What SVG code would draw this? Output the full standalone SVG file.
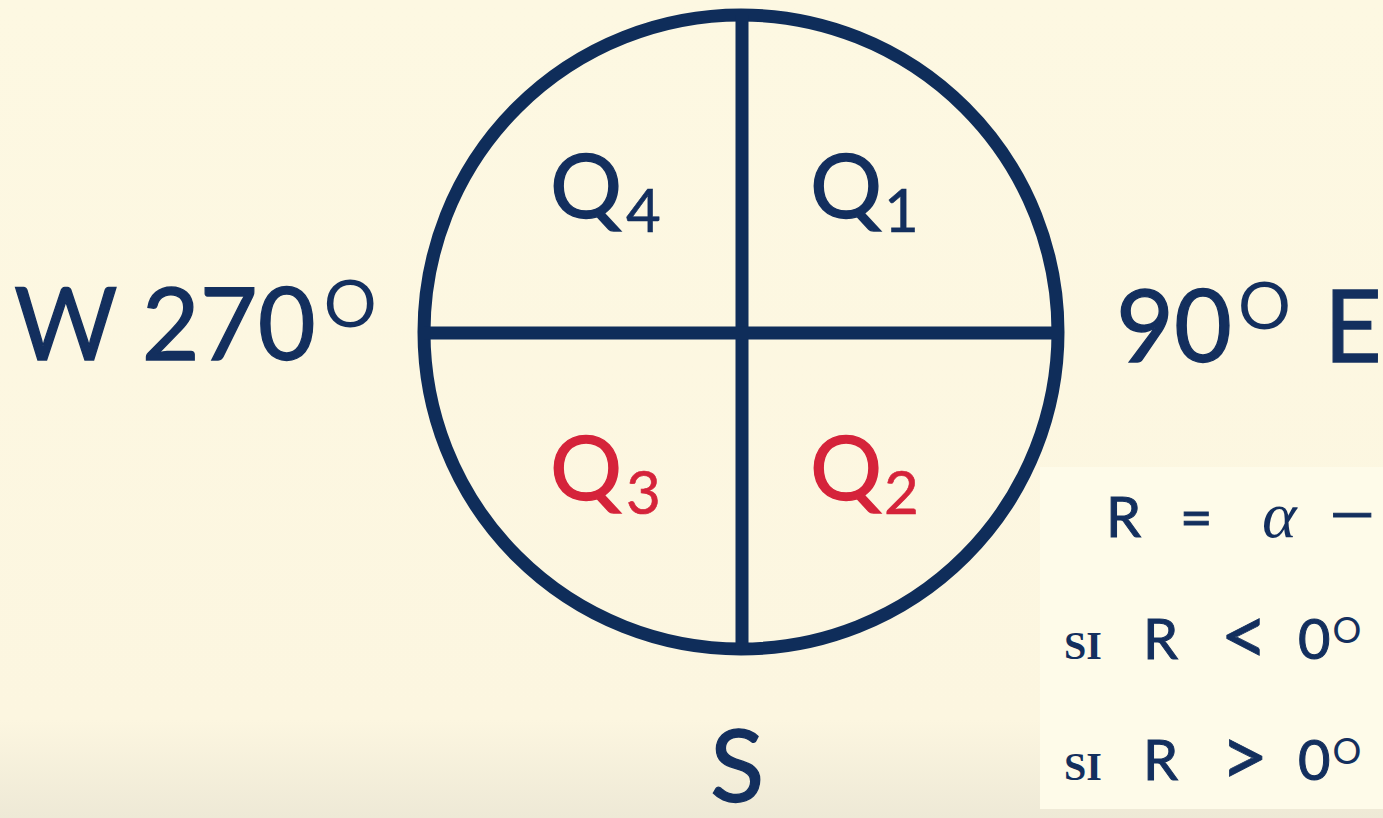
<svg xmlns="http://www.w3.org/2000/svg" width="1383" height="818" viewBox="0 0 1383 818">
<defs>
<linearGradient id="bg" x1="0" y1="0" x2="0" y2="1">
<stop offset="0" stop-color="#fdf8e2"/>
<stop offset="0.88" stop-color="#fcf6e0"/>
<stop offset="1" stop-color="#eee9d6"/>
</linearGradient>
</defs>
<style>
.n{fill:#132f5e;stroke:#132f5e;font-family:"Lato","Liberation Sans",sans-serif}
.r{fill:#d5233a;stroke:#d5233a;font-family:"Lato","Liberation Sans",sans-serif}
.q{font-size:90px;stroke-width:1.4px}
.s{font-size:60px;stroke-width:0.6px}
.big{font-size:100px;stroke-width:1.3px}
.p{font-size:56px;stroke-width:1px}
.dg{stroke-width:0}
.si{fill:#132f5e;font-family:"Liberation Serif",serif;font-size:40px;font-weight:bold}
.ln{stroke:#0f2d5a;stroke-width:13;fill:none}
</style>
<rect width="1383" height="818" fill="url(#bg)"/>
<g id="compass">
<circle class="ln" cx="741" cy="332" r="317"/>
<line class="ln" x1="742" y1="15" x2="742" y2="649"/>
<line class="ln" x1="424" y1="333" x2="1058" y2="333"/>
</g>
<g id="q4"><text class="n q" x="550" y="218">Q</text><text class="n s" x="626" y="232">4</text></g>
<g id="q1"><text class="n q" x="810" y="218">Q</text><text class="n s" x="884" y="232">1</text></g>
<g id="q3"><text class="r q" x="550" y="500">Q</text><text class="r s" x="626" y="514">3</text></g>
<g id="q2"><text class="r q" x="810" y="500">Q</text><text class="r s" x="884" y="514">2</text></g>
<g id="west"><text class="n big" x="14" y="360">W 270<tspan class="dg" font-size="66" dy="-33" dx="8">O</tspan></text></g>
<g id="east"><text class="n big" x="1116" y="362">90<tspan class="dg" font-size="66" dy="-33" dx="6">O</tspan></text><text class="n big" x="1324" y="362">E</text></g>
<g id="south"><text class="n big" x="710" y="802" font-size="90">S</text></g>
<g id="panel">
<rect x="1040" y="467" width="343" height="342" fill="#fefbe9"/>
<text class="n p" x="1106" y="537">R</text>
<text class="n p" x="1180" y="537" font-size="64">=</text>
<text x="1262" y="537" font-size="66" font-style="italic" style="fill:#132f5e;font-family:'Liberation Serif',serif">α</text>
<text class="n p" x="1330" y="532" font-size="38">—</text>
<text class="si" x="1064" y="659">SI</text>
<text class="n p" x="1143" y="659">R</text>
<text class="n" x="1220" y="665" font-size="84" stroke-width="0.8">&lt;</text>
<text class="n p" x="1298" y="659">0<tspan class="dg" font-size="36" dy="-16" dx="2">O</tspan></text>
<text class="si" x="1064" y="780">SI</text>
<text class="n p" x="1143" y="780">R</text>
<text class="n" x="1220" y="786" font-size="84" stroke-width="0.8">&gt;</text>
<text class="n p" x="1298" y="780">0<tspan class="dg" font-size="36" dy="-16" dx="2">O</tspan></text>
</g>
</svg>
